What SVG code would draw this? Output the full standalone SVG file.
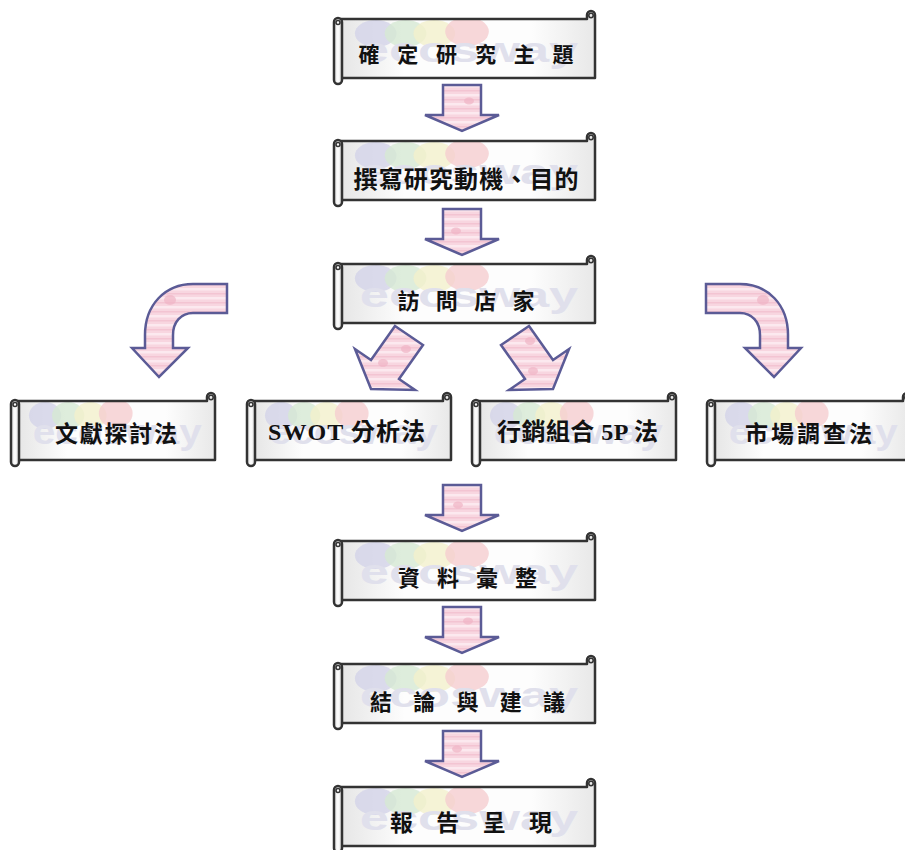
<svg xmlns="http://www.w3.org/2000/svg" xmlns:xlink="http://www.w3.org/1999/xlink" width="905" height="850" viewBox="0 0 905 850">
<style>
.ol{fill:none;stroke:#333;stroke-width:2.5;stroke-linejoin:round}
.roll{fill:url(#rollg);stroke:#333;stroke-width:2.5}
.curl{fill:none;stroke:#333;stroke-width:1.6}
.arr{fill:url(#pk);stroke:#5b5b96;stroke-width:2.5;stroke-linejoin:miter}
.spot{fill:#f0b3c4;opacity:.7}
.t{font-family:"Liberation Serif","Noto Sans CJK TC",serif;font-weight:bold;fill:#111;text-anchor:middle}
.wm{font-family:"Liberation Sans",sans-serif;font-weight:bold;fill:#e0e0ec}
</style>
<defs>
<linearGradient id="bodyg" x1="0" y1="0" x2="1" y2="0">
<stop offset="0" stop-color="#e6e6e6"/><stop offset=".25" stop-color="#fdfdfd"/><stop offset=".75" stop-color="#fdfdfd"/><stop offset="1" stop-color="#e8e8e8"/>
</linearGradient>
<linearGradient id="rollg" x1="0" y1="0" x2="1" y2="0">
<stop offset="0" stop-color="#dcdcdc"/><stop offset=".5" stop-color="#ffffff"/><stop offset="1" stop-color="#d8d8d8"/>
</linearGradient>
<pattern id="pk" width="40" height="9" patternUnits="userSpaceOnUse">
<rect width="40" height="9" fill="#f8d6e0"/>
<rect y="0" width="40" height="2.5" fill="#fce9ef"/>
<rect y="5" width="40" height="1.5" fill="#f3c4d2"/>
</pattern>
<symbol id="wm" viewBox="0 0 254 59" preserveAspectRatio="none">
<ellipse cx="34" cy="14" rx="21" ry="14" fill="#d3d3e9" opacity=".8"/>
<ellipse cx="64" cy="14" rx="21" ry="14" fill="#d6e9d3" opacity=".8"/>
<ellipse cx="93" cy="14" rx="21" ry="14" fill="#f2f0cc" opacity=".8"/>
<ellipse cx="126" cy="12" rx="22" ry="15" fill="#f5cdd0" opacity=".8"/>
<text class="wm" x="18" y="43" font-size="36" textLength="220" lengthAdjust="spacingAndGlyphs">ecosway</text>
</symbol>
<symbol id="scrollL" overflow="visible">
<path d="M8,9 H254 V5 A4,4 0 0 1 262,5 V68 H8 Z" fill="url(#bodyg)"/>
<use href="#wm" x="9" y="10" width="252" height="57"/>
<path class="ol" d="M8,9 H254 V5 A4,4 0 0 1 262,5 V68 H8 Z"/>
<circle class="curl" cx="258" cy="5.5" r="2.2"/>
<rect class="roll" x="1" y="8" width="8" height="66" rx="4"/>
<circle class="curl" cx="5" cy="12.5" r="2"/>
</symbol>
<symbol id="scrollS" overflow="visible">
<path d="M8,9 H197 V5 A4,4 0 0 1 205,5 V68 H8 Z" fill="url(#bodyg)"/>
<use href="#wm" x="9" y="10" width="195" height="57"/>
<path class="ol" d="M8,9 H197 V5 A4,4 0 0 1 205,5 V68 H8 Z"/>
<circle class="curl" cx="201" cy="5.5" r="2.2"/>
<rect class="roll" x="1" y="8" width="8" height="66" rx="4"/>
<circle class="curl" cx="5" cy="12.5" r="2"/>
</symbol>
<path id="darrow" d="M-19,0 H19 V30 H37 L0,46 L-37,30 H-19 Z"/>
</defs>

<rect width="905" height="850" fill="#ffffff"/>

<g id="connectors">
<g transform="translate(462,85)"><use href="#darrow" class="arr"/><ellipse class="spot" cx="7" cy="16" rx="5" ry="3.5"/></g>
<g transform="translate(462,209)"><use href="#darrow" class="arr"/><ellipse class="spot" cx="-6" cy="22" rx="5" ry="3.5"/></g>
<g transform="translate(462,485)"><use href="#darrow" class="arr"/><ellipse class="spot" cx="-4" cy="20" rx="5" ry="3.5"/></g>
<g transform="translate(462,607)"><use href="#darrow" class="arr"/><ellipse class="spot" cx="6" cy="14" rx="5" ry="3.5"/></g>
<g transform="translate(462,731)"><use href="#darrow" class="arr"/><ellipse class="spot" cx="-5" cy="18" rx="5" ry="3.5"/></g>
<path class="arr" d="M227,284 H193 C165,284 145,305 145,335 V348 H132 L159,377 L188,348 H173 V335 C173,322 181,313 193,313 H227 Z"/>
<ellipse class="spot" cx="170" cy="300" rx="6" ry="5"/>
<path class="arr" d="M706,284 H740 C768,284 788,305 788,335 V348 H801 L774,377 L745,348 H760 V335 C760,322 752,313 740,313 H706 Z"/>
<ellipse class="spot" cx="763" cy="300" rx="6" ry="5"/>
<path class="arr" d="M395,326 L423,345 L399,379 L415,390 L371,389 L355,349 L371,360 Z"/>
<ellipse class="spot" cx="383" cy="363" rx="5" ry="4"/><ellipse class="spot" cx="406" cy="349" rx="5" ry="4"/>
<path class="arr" d="M529,326 L501,345 L525,379 L509,390 L553,389 L569,349 L553,360 Z"/>
<ellipse class="spot" cx="530" cy="341" rx="5" ry="4"/><ellipse class="spot" cx="533" cy="371" rx="5" ry="4"/>
</g>

<g id="n1"><use href="#scrollL" x="333" y="10"/><text class="t" x="466" y="62" font-size="21" textLength="215" lengthAdjust="spacing">確 定 研 究 主 題</text></g>
<g id="n2"><use href="#scrollL" x="333" y="132"/><text class="t" x="466" y="188" font-size="24" textLength="225" lengthAdjust="spacing">撰寫研究動機、目的</text></g>
<g id="n3"><use href="#scrollL" x="333" y="255"/><text class="t" x="466" y="309" font-size="22" textLength="137" lengthAdjust="spacing">訪 問 店 家</text></g>
<g id="n4"><use href="#scrollS" x="10" y="392"/><text class="t" x="116" y="442" font-size="23" textLength="122" lengthAdjust="spacing">文獻探討法</text></g>
<g id="n5"><use href="#scrollS" x="246" y="392"/><text class="t" x="346.5" y="440" font-size="24" textLength="157" lengthAdjust="spacing">SWOT 分析法</text></g>
<g id="n6"><use href="#scrollS" x="471" y="392"/><text class="t" x="577.5" y="440" font-size="24" textLength="161" lengthAdjust="spacing">行銷組合 5P 法</text></g>
<g id="n7"><use href="#scrollS" x="706" y="392"/><text class="t" x="808.5" y="442" font-size="23" textLength="127" lengthAdjust="spacing">市場調查法</text></g>
<g id="n8"><use href="#scrollL" x="333" y="532"/><text class="t" x="467.5" y="586" font-size="22" textLength="139" lengthAdjust="spacing">資 料 彙 整</text></g>
<g id="n9"><use href="#scrollL" x="333" y="655"/><text class="t" x="467.5" y="710" font-size="22" textLength="195" lengthAdjust="spacing">結 論 與 建 議</text></g>
<g id="n10"><use href="#scrollL" x="333" y="778"/><text class="t" x="471" y="831" font-size="23" textLength="162" lengthAdjust="spacing">報 告 呈 現</text></g>
</svg>
